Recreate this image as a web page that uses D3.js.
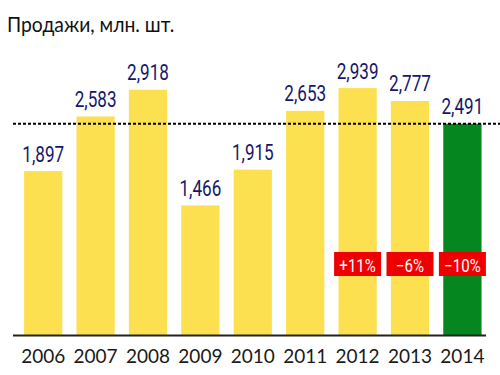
<!DOCTYPE html>
<html>
<head>
  <meta charset="UTF-8">
  <style>
    body { margin: 0; background: #fff; }
    svg { display: block; }
    .title { font: 21px Lato, "Open Sans", sans-serif; fill: #111; }
    .year { font: 19px Lato, "Open Sans", sans-serif; fill: #1a1a1a; }
    .val { font: 22.5px Roboto, "DejaVu Sans Condensed", sans-serif; fill: #14186b; }
    .badge text { font: 17.5px Roboto, "DejaVu Sans Condensed", sans-serif; fill: #fff; }
  </style>
</head>
<body>
<svg></svg>
<script src="https://cdnjs.cloudflare.com/ajax/libs/d3/7.8.5/d3.min.js"></script>
<script>

let width = 500, height = 375;

// sales, mln units
let years = ["2006", "2007", "2008", "2009", "2010", "2011", "2012", "2013", "2014"];
let sales = [1897, 2583, 2918, 1466, 1915, 2653, 2939, 2777, 2491];
let valueLabels = ["1,897", "2,583", "2,918", "1,466", "1,915", "2,653", "2,939", "2,777", "2,491"];
let changeYears = ["2012", "2013", "2014"];
let changeLabels = ["+11%", "\u22126%", "\u221210%"];

let data = years.map((y, i) => ({year: y, value: sales[i], label: valueLabels[i]}));

let svg = d3.select("svg")
    .attr("width", width)
    .attr("height", height);

let x = d3.scaleBand()
    .domain(years)
    .range([17, 488.6])
    .paddingInner(0.27)
    .paddingOuter(0.135);

// the picture is not drawn from zero, baseline sits a bit below
let y = d3.scaleLinear()
    .domain([-160, 2940])
    .range([335, 88]);

svg.append("text")
    .attr("class", "title")
    .attr("transform", "translate(7,32) scale(0.92,1)")
    .text("Продажи, млн. шт.");

svg.append("g")
    .selectAll("rect")
    .data(data)
    .enter()
    .append("rect")
    .attr("x", d => x(d.year))
    .attr("y", d => y(d.value))
    .attr("width", x.bandwidth())
    .attr("height", d => y.range()[0] - y(d.value))
    .attr("fill", (d, i) => i == data.length - 1 ? "#05861f" : "#fde050");

// reference line at last year's level
let last = sales[sales.length - 1];
svg.append("line")
    .attr("x1", 13)
    .attr("x2", 500)
    .attr("y1", y(last))
    .attr("y2", y(last))
    .attr("stroke", "#000")
    .attr("stroke-width", 2)
    .attr("stroke-dasharray", "3,2");

// condensed look: squeeze the labels horizontally
svg.append("g")
    .selectAll("text")
    .data(data)
    .enter()
    .append("text")
    .attr("class", "val")
    .attr("text-anchor", "middle")
    .attr("transform", d => "translate(" + (x(d.year) + x.bandwidth() / 2) + "," + (y(d.value) - 9.5) + ") scale(0.76,1)")
    .text(d => d.label);

// x axis
let xAxis = svg.append("g")
    .attr("transform", "translate(0," + 335.5 + ")")
    .call(d3.axisBottom(x).tickSize(0).tickPadding(8));
xAxis.attr("font-size", null).attr("font-family", null);
xAxis.select(".domain")
    .attr("d", "M13,0H486")
    .attr("stroke", "#222")
    .attr("stroke-width", 2);
xAxis.selectAll("text")
    .attr("class", "year")
    .attr("fill", null)
    .attr("dy", "1.0em");

let badges = svg.append("g")
    .selectAll("g")
    .data(changeYears)
    .enter()
    .append("g")
    .attr("class", "badge")
    .attr("transform", d => "translate(" + (x(d) + x.bandwidth() / 2) + ",264)");
badges.append("rect")
    .attr("x", -23.5)
    .attr("y", -12)
    .attr("width", 47)
    .attr("height", 24)
    .attr("fill", "#ee0000");
badges.append("text")
    .attr("text-anchor", "middle")
    .attr("transform", "translate(0,7.5) scale(0.86,1)")
    .text((d, i) => changeLabels[i]);

</script>
</body>
</html>
